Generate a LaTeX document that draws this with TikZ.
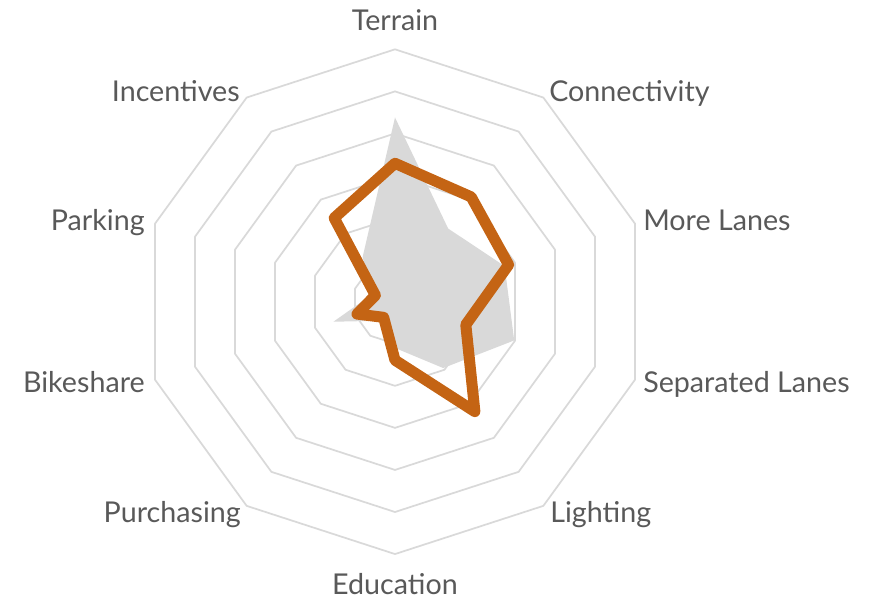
\documentclass[tikz,border=0pt]{standalone}
\usepackage{fontspec}
\setmainfont{Lato}
\definecolor{gridgray}{HTML}{D9D9D9}
\definecolor{areagray}{HTML}{D9D9D9}
\definecolor{rustline}{RGB}{196,100,20}
\definecolor{labelgray}{HTML}{595959}

\begin{document}
\begin{tikzpicture}[x=0.75pt, y=0.75pt,
  gridline/.style={draw=gridgray, line width=1.3pt},
  areaseries/.style={fill=areagray, draw=none},
  lineseries/.style={draw=rustline, line width=8.3pt, line join=round},
  axislabel/.style={text=labelgray, font=\fontsize{21.5}{26}\selectfont, inner sep=0pt}]

  % Sizes (chart pixels)
  \def\ring{42.06}  % Distance between two rings

  \useasboundingbox (-395,-297.3) rectangle (482,301.7);

  % Rings of the grid
  \foreach \r in {1,...,6}
    \draw[gridline] (90:\r*\ring) \foreach \k in {1,...,9} { -- (90-\k*36:\r*\ring) } -- cycle;

  % Grey area series
  \fill[areaseries] (90:4.38*\ring) -- (54:2.15*\ring) -- (18:2.74*\ring)
    -- (-18:2.98*\ring) -- (-54:1.95*\ring) -- (-90:1.10*\ring)
    -- (-126:0.56*\ring) -- (-162:1.54*\ring) -- (162:0.57*\ring)
    -- (126:1.31*\ring) -- cycle;

  % Orange line series
  \draw[lineseries] (90:3.29*\ring) -- (54:3.08*\ring) -- (18:2.84*\ring)
    -- (-18:1.77*\ring) -- (-54:3.23*\ring) -- (-90:1.39*\ring)
    -- (-126:0.46*\ring) -- (-162:0.95*\ring) -- (162:0.49*\ring)
    -- (126:2.46*\ring) -- cycle;

  % Axis labels
  \node[axislabel, anchor=base] (terrain) at (0,271) {Terrain};
  \node[axislabel, anchor=base west] (connectivity) at (154,200.4) {Connectivity};
  \node[axislabel, anchor=base west] (morelanes) at (248,70.7) {More Lanes};
  \node[axislabel, anchor=base west] (separated) at (248,-91) {Separated Lanes};
  \node[axislabel, anchor=base west] (lighting) at (155,-220.6) {Lighting};
  \node[axislabel, anchor=base] (education) at (0,-292.5) {Education};
  \node[axislabel, anchor=base east] (purchasing) at (-154,-220.6) {Purchasing};
  \node[axislabel, anchor=base east] (bikeshare) at (-250,-91) {Bikeshare};
  \node[axislabel, anchor=base east] (parking) at (-250,70.7) {Parking};
  \node[axislabel, anchor=base east] (incentives) at (-155,200.4) {Incentives};

\end{tikzpicture}
\end{document}
